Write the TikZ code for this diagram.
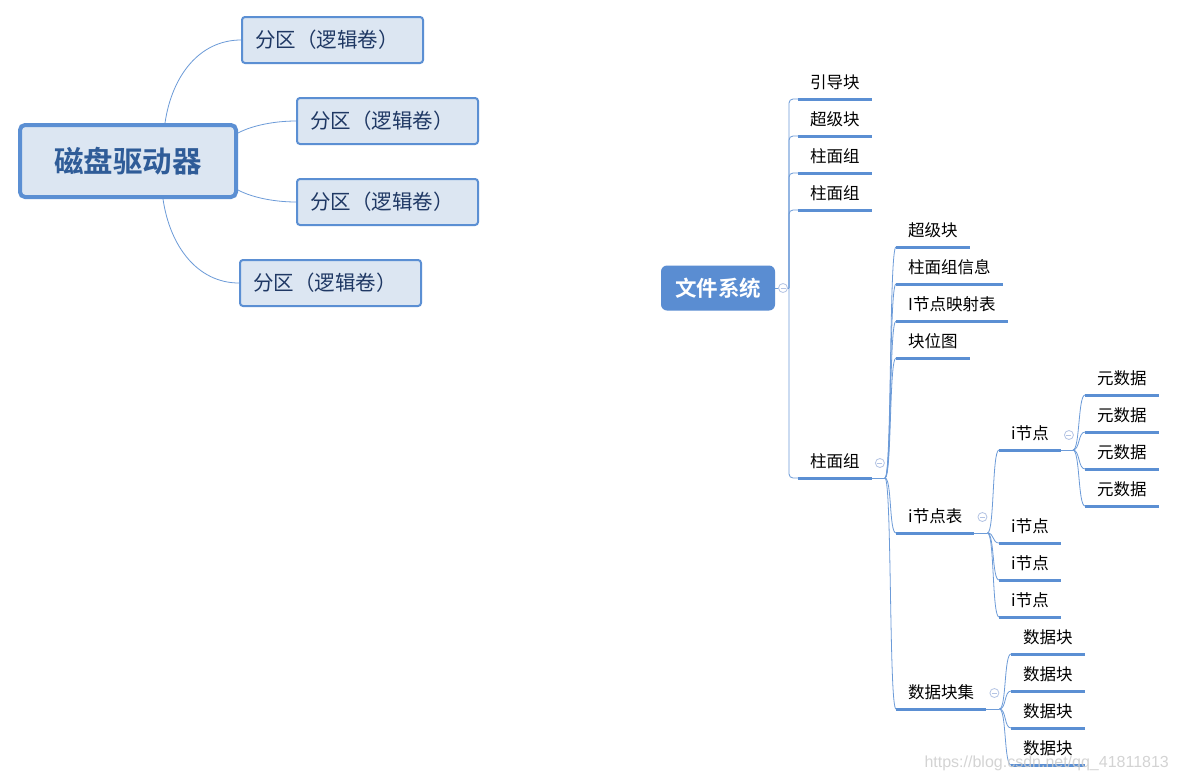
\documentclass[tikz,border=0pt]{standalone}
\usepackage{fontspec}
\setmainfont{Noto Sans CJK SC}[BoldFont={Noto Sans CJK SC Bold}]
\newfontfamily\wmfont{Liberation Sans}
\usetikzlibrary{positioning,calc}
\definecolor{boxFill}  {HTML}{DCE6F2}
\definecolor{boxEdge}  {HTML}{5B8FD3}
\definecolor{navy}     {HTML}{1F3864}
\definecolor{diskText} {HTML}{2F5C98}
\definecolor{fsBlue}   {HTML}{5A8DD2}
\definecolor{linkBlue} {HTML}{6C9BD8}
\definecolor{foldEdge} {HTML}{B4C4E4}
\definecolor{wmGray}   {HTML}{CCCCCC}

\begin{document}
\begin{tikzpicture}[x=1pt,y=-1pt,
  part/.style={draw=boxEdge, line width=2pt, fill=boxFill, rounded corners=3pt,
               inner xsep=13pt, text width=155pt, align=left, minimum height=46pt,
               font=\fontsize{20.5}{20.5}\selectfont, text=navy},
  branch/.style={linkBlue, line width=0.8pt},
  topic/.style={anchor=south west, inner xsep=12pt, inner ysep=10pt, text depth=0pt,
                font=\fontsize{16.5}{16.5}\selectfont},
  uline/.style={boxEdge, line width=3pt},
  fold/.style={circle, draw=foldEdge, fill=white, line width=0.8pt, minimum size=9pt, inner sep=0pt,
               path picture={\draw[foldEdge, line width=0.8pt]
                 ([xshift=-2.5pt]path picture bounding box.center) --
                 ([xshift=2.5pt]path picture bounding box.center);}}]
  \useasboundingbox[fill=white] (0,0) rectangle (1177,782);

  % left map
  \node[draw=boxEdge, line width=4pt, fill=boxFill, rounded corners=5pt,
        minimum width=216pt, minimum height=72pt, text=diskText,
        font=\fontsize{29.5}{29.5}\selectfont\bfseries] (disk) at (128,161) {磁盘驱动器};
  \node[part] (p1) at (332.5,40)  {分区（逻辑卷）};
  \node[part] (p2) at (387.5,121) {分区（逻辑卷）};
  \node[part] (p3) at (387.5,202) {分区（逻辑卷）};
  \node[part] (p4) at (330.5,283) {分区（逻辑卷）};
  \draw[branch] ([xshift=37pt]disk.north) .. controls +(7,-48) and +(-41,0) .. (p1.west);
  \draw[branch] ([yshift=28pt]disk.east) .. controls +(15,-8) and +(-20,0) .. (p2.west);
  \draw[branch] ([yshift=-29pt]disk.east) .. controls +(15,8) and +(-20,0) .. (p3.west);
  \draw[branch] ([xshift=35pt]disk.south) .. controls +(7,48) and +(-41,0) .. (p4.west);

  % right map
  \node[fill=fsBlue, rounded corners=6pt, minimum width=114pt, minimum height=45pt,
        text=white, font=\fontsize{21.5}{21.5}\selectfont\bfseries] (fs) at (718,288) {文件系统};
  \coordinate (fshub) at (789,288);
  \draw[branch] (fs.east) -- (fshub);
  \node[fold] (fsfold) at (783,288) {};

  \node[topic] (boot) at (798,99)  {引导块};
  \node[topic] (sb)   at (798,136) {超级块};
  \node[topic] (cg1)  at (798,173) {柱面组};
  \node[topic] (cg2)  at (798,210) {柱面组};
  \node[topic] (cg)   at (798,478) {柱面组};
  \foreach \n in {boot,sb,cg1,cg2,cg}{
    \draw[branch, rounded corners=4pt] (fshub) |- (\n.south west);
    \draw[uline] (\n.south west) -- (\n.south east);
  }

  \node[topic] (sb2)    at (896,247) {超级块};
  \node[topic] (cginfo) at (896,284) {柱面组信息};
  \node[topic] (imap)   at (896,321) {I节点映射表};
  \node[topic] (bmap)   at (896,358) {块位图};
  \node[topic] (itab)   at (896,533) {i节点表};
  \node[topic] (dset)   at (896,709) {数据块集};
  \coordinate (cgout) at ([xshift=13pt]cg.south east);
  \draw[branch] (cg.south east) -- (cgout);
  \foreach \n in {sb2,cginfo,imap,bmap,itab,dset}{
    \draw[branch] (cgout) .. controls +(7,0) and +(-7,0) .. (\n.south west);
    \draw[uline] (\n.south west) -- (\n.south east);
  }
  \node[fold] at ([shift={(-5,-15)}]cgout) {};

  % inode table
  \foreach \i/\y in {1/450,2/543,3/580,4/617}
    \node[topic] (in\i) at (999,\y) {i节点};
  \coordinate (itabout) at ([xshift=13pt]itab.south east);
  \draw[branch] (itab.south east) -- (itabout);
  \foreach \i in {1,...,4}{
    \draw[branch] (itabout) .. controls +(7,0) and +(-7,0) .. (in\i.south west);
    \draw[uline] (in\i.south west) -- (in\i.south east);
  }
  \node[fold] at ([shift={(-5,-16)}]itabout) {};

  \foreach \i/\y in {1/395,2/432,3/469,4/506}
    \node[topic] (md\i) at (1085,\y) {元数据};
  \coordinate (in1out) at ([xshift=12pt]in1.south east);
  \draw[branch] (in1.south east) -- (in1out);
  \foreach \i in {1,...,4}{
    \draw[branch] (in1out) .. controls +(7,0) and +(-7,0) .. (md\i.south west);
    \draw[uline] (md\i.south west) -- (md\i.south east);
  }
  \node[fold] at ([shift={(-4,-15)}]in1out) {};

  % data blocks
  \foreach \i/\y in {1/654,2/691,3/728,4/765}
    \node[topic] (db\i) at (1011,\y) {数据块};
  \coordinate (dsetout) at ([xshift=13pt]dset.south east);
  \draw[branch] (dset.south east) -- (dsetout);
  \foreach \i in {1,...,4}{
    \draw[branch] (dsetout) .. controls +(7,0) and +(-7,0) .. (db\i.south west);
    \draw[uline] (db\i.south west) -- (db\i.south east);
  }
  \node[fold] at ([shift={(-5,-16)}]dsetout) {};

  \node[font=\wmfont\fontsize{16}{16}\selectfont, text=wmGray, text opacity=0.85, anchor=west]
    (wm) at (921,763) {https://blog.csdn.net/qq\_41811813};
\end{tikzpicture}
\end{document}
